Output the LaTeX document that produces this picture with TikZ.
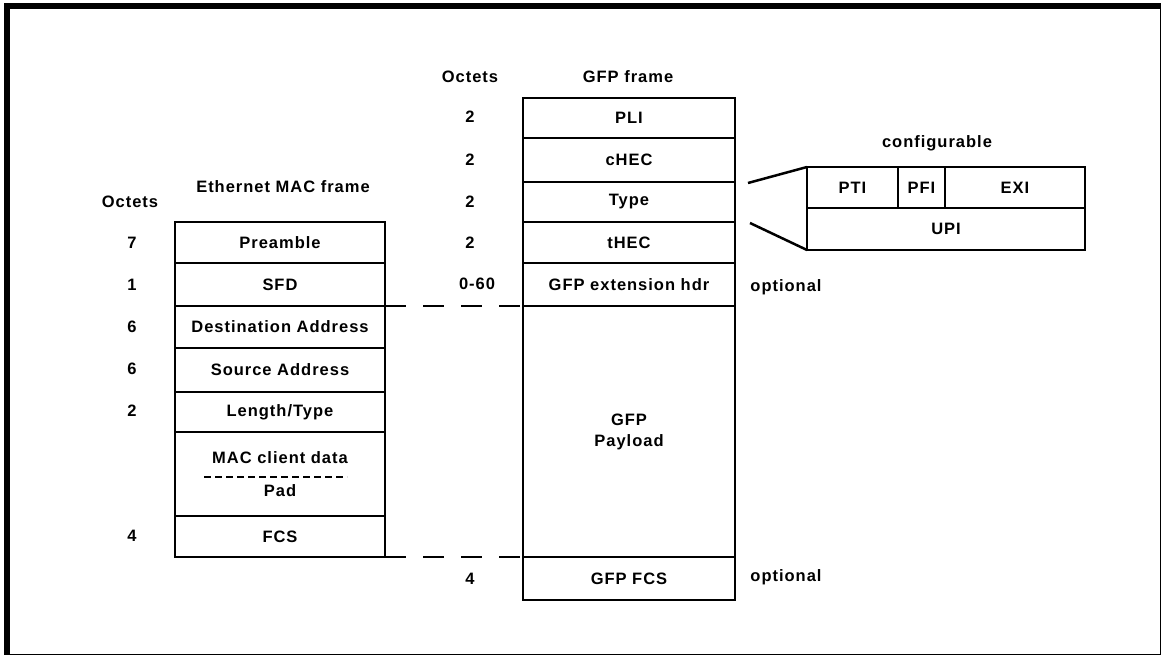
\documentclass[tikz,border=0pt]{standalone}
\usepackage{fontspec}
\setmainfont{Liberation Sans}[LetterSpace=6]
\begin{document}
\begin{tikzpicture}[x=1pt,y=-1pt,
  txt/.style={font=\fontsize{16.5}{18}\selectfont\bfseries, inner sep=0pt},
  cell/.style={draw, line width=2.8pt, inner sep=0pt, outer sep=0pt, anchor=north west, align=center, txt},
  lab/.style={txt},
  conn/.style={line width=2.5pt},
  gap/.style={line width=2.8pt, dash pattern=on 21pt off 17pt},
  dots/.style={line width=2pt, dash pattern=on 7pt off 4pt}]
\useasboundingbox (0,0) rectangle (1161,655);
\draw[line width=6pt] (7,6.5) rectangle (1162.5,656.5);

% Ethernet MAC frame
\node[lab] (octA) at (130,202) {Octets};
\node[lab] (ethT) at (283,187) {Ethernet MAC frame};
\node[cell, minimum width=210pt, minimum height=41pt] (pre) at (175,222) {Preamble};
\node[cell, minimum width=210pt, minimum height=43pt] (sfd) at (175,263) {SFD};
\node[cell, minimum width=210pt, minimum height=42pt] (dst) at (175,306) {Destination Address};
\node[cell, minimum width=210pt, minimum height=44pt] (src) at (175,348) {Source Address};
\node[cell, minimum width=210pt, minimum height=40pt] (len) at (175,392) {Length/Type};
\node[cell, minimum width=210pt, minimum height=84pt] (data) at (175,432) {};
\node[cell, minimum width=210pt, minimum height=41pt] (fcs) at (175,516) {FCS};
\node[lab] (mcd) at (280,458) {MAC client data};
\node[lab] (pad) at (280,491) {Pad};
\coordinate (dl) at (204,477);
\coordinate (dr) at (347,477);
\draw[dots] (dl) -- (dr);

\node[lab] (n7) at (132,243) {7};
\node[lab] (n1) at (132,285) {1};
\node[lab] (n6a) at (132,327) {6};
\node[lab] (n6b) at (132,369) {6};
\node[lab] (n2) at (132,411) {2};
\node[lab] (n4) at (132,536) {4};

% GFP frame
\node[lab] (octB) at (470,77) {Octets};
\node[lab] (gfpT) at (628,77) {GFP frame};
\node[cell, minimum width=212pt, minimum height=40pt] (pli) at (523,98) {PLI};
\node[cell, minimum width=212pt, minimum height=44pt] (chec) at (523,138) {cHEC};
\node[cell, minimum width=212pt, minimum height=40pt] (type) at (523,182) {Type};
\node[cell, minimum width=212pt, minimum height=41pt] (thec) at (523,222) {tHEC};
\node[cell, minimum width=212pt, minimum height=43pt] (ext) at (523,263) {GFP extension hdr};
\node[cell, minimum width=212pt, minimum height=251pt] (pay) at (523,306) {GFP\\[3pt]Payload};
\node[cell, minimum width=212pt, minimum height=43pt] (gfcs) at (523,557) {GFP FCS};

\node[lab] (g1) at (470,117) {2};
\node[lab] (g2) at (470,160) {2};
\node[lab] (g3) at (470,202) {2};
\node[lab] (g4) at (470,243) {2};
\node[lab] (g5) at (477,284) {0-60};
\node[lab] (g6) at (470,579) {4};

\node[lab] (opt1) at (786,287) {optional};
\node[lab] (opt2) at (786,577) {optional};

% dashed correspondence lines
\draw[gap] (sfd.south east) -- (ext.south west);
\draw[gap] (fcs.south east) -- (pay.south west);

% configurable type field
\node[lab] (cfg) at (937,143) {configurable};
\node[cell, minimum width=91pt, minimum height=41pt] (pti) at (807,167) {PTI};
\node[cell, minimum width=47pt, minimum height=41pt] (pfi) at (898,167) {PFI};
\node[cell, minimum width=140pt, minimum height=41pt] (exi) at (945,167) {EXI};
\node[cell, minimum width=278pt, minimum height=42pt] (upi) at (807,208) {UPI};
\coordinate (c1) at (748,183);
\coordinate (c2) at (750,223);
\draw[conn] (c1) -- (pti.north west);
\draw[conn] (c2) -- (upi.south west);
\end{tikzpicture}
\end{document}
